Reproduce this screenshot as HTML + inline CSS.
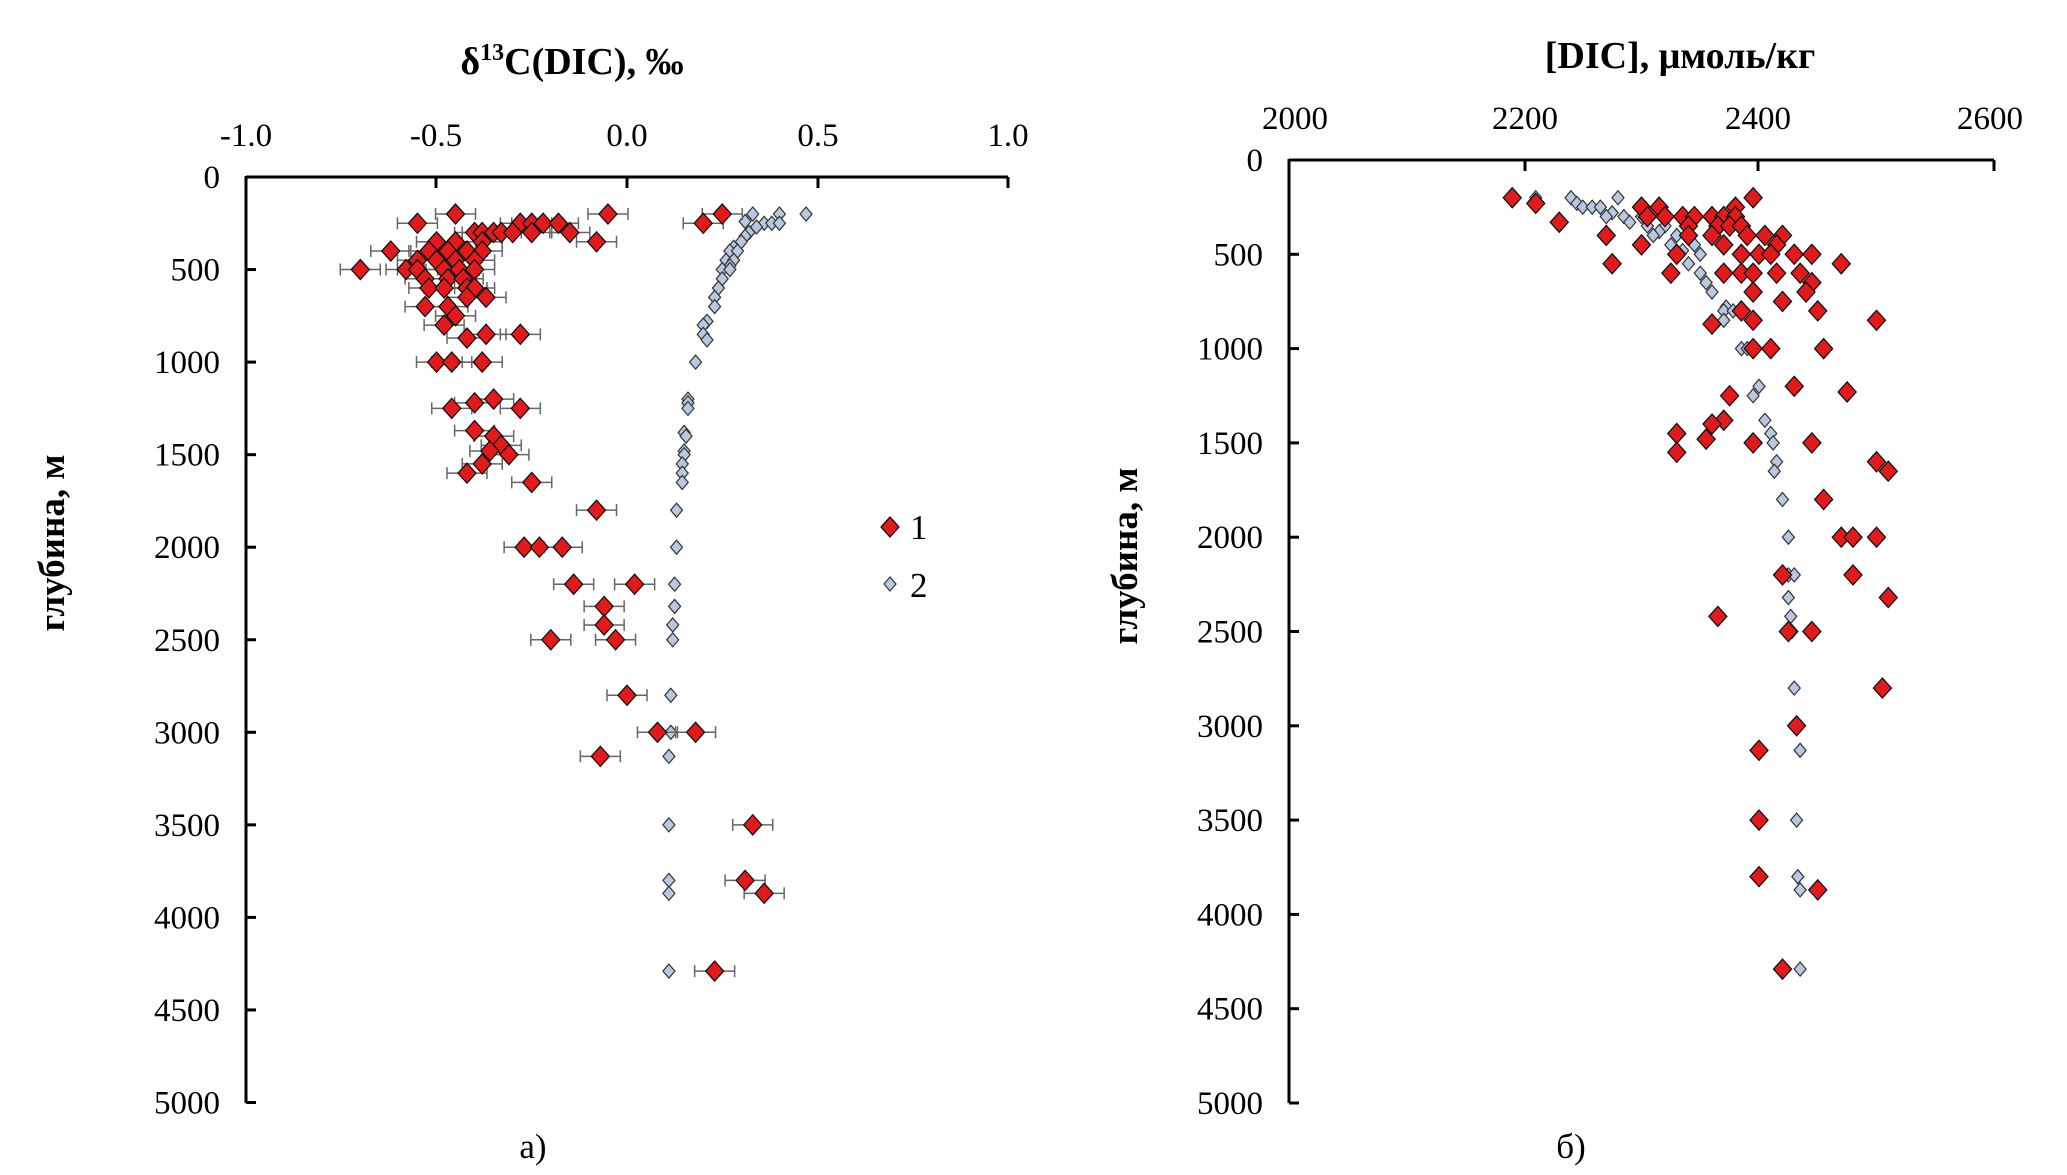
<!DOCTYPE html>
<html><head><meta charset="utf-8">
<style>
html,body{margin:0;padding:0;background:#fff;}
svg{display:block;font-family:"Liberation Serif",serif;}
</style></head>
<body>
<svg id="s" width="2067" height="1175" viewBox="0 0 2067 1175" xmlns="http://www.w3.org/2000/svg">
<rect width="2067" height="1175" fill="#fff"/>
<!-- Left chart -->
<text x="572" y="74" font-size="38" font-weight="bold" text-anchor="middle">δ<tspan font-size="24" dy="-14">13</tspan><tspan dy="14">C(DIC), ‰</tspan></text>
<g font-size="33" text-anchor="middle">
<text x="246" y="146">-1.0</text><text x="436" y="146">-0.5</text><text x="627" y="146">0.0</text><text x="818" y="146">0.5</text><text x="1008" y="146">1.0</text>
</g>
<g font-size="33" text-anchor="end" id="ly"></g>
<line x1="246" y1="177" x2="1008" y2="177" stroke="#000" stroke-width="3"/>
<line x1="246" y1="176" x2="246" y2="1103" stroke="#000" stroke-width="3"/>
<g id="lt" stroke="#000" stroke-width="3"></g>
<text transform="translate(64,543) rotate(-90)" font-size="37" font-weight="bold" text-anchor="middle">глубина, м</text>
<text x="533" y="1158" font-size="35" text-anchor="middle">а)</text>
<g id="leftdata"></g>
<!-- legend -->
<path d="M890 517 L899 527 L890 537 L881 527 Z" fill="#e31a1c" stroke="#000" stroke-width="1.2"/>
<text x="910" y="539" font-size="35">1</text>
<path d="M890 577 L896 584 L890 591 L884 584 Z" fill="#b8c8e0" stroke="#333" stroke-width="1.2"/>
<text x="910" y="597" font-size="35">2</text>
<!-- Right chart -->
<text x="1680" y="68" font-size="38" font-weight="bold" text-anchor="middle">[DIC], μмоль/кг</text>
<g font-size="33" text-anchor="middle">
<text x="1295" y="129">2000</text><text x="1525" y="129">2200</text><text x="1758" y="129">2400</text><text x="1990" y="129">2600</text>
</g>
<g font-size="33" text-anchor="end" id="ry"></g>
<line x1="1289" y1="160" x2="1994" y2="160" stroke="#000" stroke-width="3"/>
<line x1="1289" y1="159" x2="1289" y2="1103" stroke="#000" stroke-width="3"/>
<g id="rt" stroke="#000" stroke-width="3"></g>
<text transform="translate(1137,556) rotate(-90)" font-size="37" font-weight="bold" text-anchor="middle">глубина, м</text>
<text x="1571" y="1158" font-size="35" text-anchor="middle">б)</text>
<g id="rightdata"></g>
</svg>
<script>
var NS="http://www.w3.org/2000/svg";
function el(p,t,a,txt){var e=document.createElementNS(NS,t);for(var k in a)e.setAttribute(k,a[k]);if(txt!==undefined)e.textContent=txt;document.getElementById(p).appendChild(e);return e;}
for(var i=0;i<=10;i++){var d=i*500;
 var yl=177+d*0.1851; el("ly","text",{x:220,y:yl+11},String(d));
 if(i>0) el("lt","line",{x1:246,y1:yl,x2:256,y2:yl});
 var yr=160+d*0.1886; el("ry","text",{x:1263,y:yr+11},String(d));
 if(i>0) el("rt","line",{x1:1289,y1:yr,x2:1299,y2:yr});
}
[436,627,818,1008].forEach(function(x){el("lt","line",{x1:x,y1:177,x2:x,y2:188});});
[1525,1758,1994].forEach(function(x){el("rt","line",{x1:x,y1:160,x2:x,y2:171});});
function lx(v){return 246+(v+1)*381;} function ly(d){return 177+d*0.1851;}
function rx(v){return 1289+(v-2000)*1.175;} function ry(d){return 160+d*0.1886;}
function red(g,x,y){el(g,"path",{d:"M"+x+" "+(y-10)+" L"+(x+9)+" "+y+" L"+x+" "+(y+10)+" L"+(x-9)+" "+y+" Z",fill:"#e31a1c",stroke:"#111","stroke-width":1.3});}
function gray(g,x,y){el(g,"path",{d:"M"+x+" "+(y-7)+" L"+(x+6)+" "+y+" L"+x+" "+(y+7)+" L"+(x-6)+" "+y+" Z",fill:"#b8c8e0",stroke:"#333","stroke-width":1.2});}
var L1=[[200,-0.45],[200,-0.05],[200,0.25],[250,-0.55],[250,-0.28],[250,-0.25],[250,-0.22],[250,-0.18],[250,0.2],
[300,-0.4],[300,-0.38],[300,-0.35],[300,-0.33],[300,-0.3],[300,-0.25],[300,-0.15],[350,-0.5],[350,-0.45],[350,-0.38],[350,-0.08],
[400,-0.62],[400,-0.52],[400,-0.47],[400,-0.42],[400,-0.38],[450,-0.55],[450,-0.5],[450,-0.45],[450,-0.4],
[500,-0.7],[500,-0.58],[500,-0.55],[500,-0.48],[500,-0.44],[500,-0.4],[550,-0.53],[550,-0.47],[550,-0.43],
[600,-0.52],[600,-0.48],[600,-0.42],[600,-0.4],[650,-0.37],[650,-0.42],[700,-0.53],[700,-0.47],[750,-0.45],[800,-0.48],
[850,-0.37],[850,-0.28],[870,-0.42],[1000,-0.5],[1000,-0.46],[1000,-0.38],[1200,-0.35],[1220,-0.4],[1250,-0.46],[1250,-0.28],
[1370,-0.4],[1400,-0.35],[1450,-0.33],[1480,-0.36],[1500,-0.31],[1550,-0.38],[1600,-0.42],[1650,-0.25],[1800,-0.08],
[2000,-0.27],[2000,-0.23],[2000,-0.17],[2200,-0.14],[2200,0.02],[2320,-0.06],[2420,-0.06],[2500,-0.2],[2500,-0.03],
[2800,0.0],[3000,0.08],[3000,0.18],[3130,-0.07],[3500,0.33],[3800,0.31],[3870,0.36],[4290,0.23]];
var L2=[[200,0.33],[200,0.4],[200,0.47],[240,0.31],[250,0.36],[250,0.38],[250,0.4],[270,0.34],[300,0.32],[320,0.31],[350,0.3],[380,0.28],
[400,0.27],[400,0.29],[450,0.26],[450,0.28],[480,0.27],[500,0.25],[500,0.27],[550,0.25],[600,0.24],[650,0.23],[700,0.23],[780,0.21],[800,0.2],[850,0.2],[880,0.21],
[1000,0.18],[1200,0.16],[1220,0.16],[1250,0.16],[1380,0.15],[1400,0.155],[1480,0.15],[1500,0.15],[1550,0.145],[1600,0.145],[1650,0.145],
[1800,0.13],[2000,0.13],[2200,0.125],[2320,0.125],[2420,0.12],[2500,0.12],[2800,0.115],[3000,0.115],[3130,0.11],[3500,0.11],[3800,0.11],[3870,0.11],[4290,0.11]];
L2.forEach(function(p){gray("leftdata",lx(p[1]),ly(p[0]));});
L1.forEach(function(p){var x=lx(p[1]),y=ly(p[0]);
 el("leftdata","path",{d:"M"+(x-20)+" "+y+"H"+(x+20)+"M"+(x-20)+" "+(y-6)+"V"+(y+6)+"M"+(x+20)+" "+(y-6)+"V"+(y+6),stroke:"#666","stroke-width":1.5,fill:"none"});});
L1.forEach(function(p){red("leftdata",lx(p[1]),ly(p[0]));});
var R1=[[200,2190],[200,2395],[230,2210],[250,2315],[250,2380],[250,2300],[300,2305],[300,2320],[300,2335],[300,2345],[300,2360],[300,2370],[300,2380],
[330,2230],[350,2340],[350,2365],[350,2375],[350,2385],[400,2270],[400,2340],[400,2360],[400,2390],[400,2405],[400,2420],[450,2300],[450,2370],[450,2415],
[500,2330],[500,2385],[500,2400],[500,2410],[500,2430],[500,2445],[550,2275],[550,2470],[600,2325],[600,2370],[600,2385],[600,2395],[600,2415],[600,2435],
[650,2445],[700,2395],[700,2440],[750,2420],[800,2385],[800,2450],[850,2395],[850,2500],[870,2360],[1000,2395],[1000,2410],[1000,2455],
[1200,2430],[1230,2475],[1250,2375],[1380,2370],[1400,2360],[1450,2330],[1480,2355],[1500,2395],[1500,2445],[1550,2330],[1600,2500],[1650,2510],
[1800,2455],[2000,2470],[2000,2480],[2000,2500],[2200,2420],[2200,2480],[2320,2510],[2420,2365],[2500,2445],[2500,2425],[2800,2505],[3000,2432],[3130,2400],
[3500,2400],[3800,2400],[3870,2450],[4290,2420]];
var R2=[[200,2210],[200,2240],[200,2280],[230,2245],[250,2250],[250,2258],[250,2265],[280,2275],[300,2270],[300,2285],[300,2300],[330,2290],[350,2305],[350,2320],
[380,2315],[400,2310],[400,2330],[400,2340],[450,2325],[450,2345],[480,2335],[500,2330],[500,2350],[550,2340],[600,2350],[650,2355],[700,2360],
[780,2372],[800,2370],[800,2378],[850,2370],[1000,2385],[1000,2390],[1200,2400],[1250,2395],[1380,2405],[1450,2410],[1500,2412],[1600,2415],[1650,2413],
[1800,2420],[2000,2425],[2200,2425],[2200,2430],[2320,2425],[2420,2427],[2500,2428],[2800,2430],[3000,2432],[3130,2435],[3500,2432],[3800,2433],[3870,2435],[4290,2435]];
R2.forEach(function(p){gray("rightdata",rx(p[1]),ry(p[0]));});
R1.forEach(function(p){red("rightdata",rx(p[1]),ry(p[0]));});
</script>
</body></html>
